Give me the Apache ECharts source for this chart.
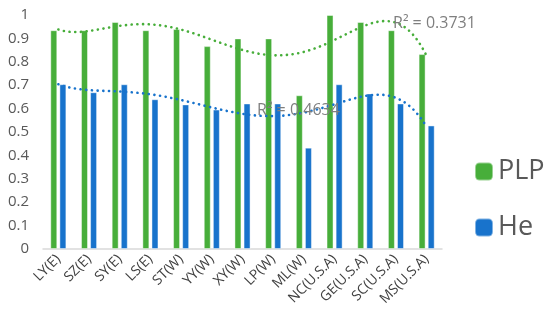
<!DOCTYPE html>
<html><head><meta charset="utf-8">
<script src="https://cdn.jsdelivr.net/npm/echarts@6/dist/echarts.min.js"></script>
<style>html,body{margin:0;padding:0;background:#fff}#c{width:550px;height:329px}</style>
</head><body><div id="c"></div>
<script>
const categories = ['LY(E)','SZ(E)','SY(E)','LS(E)','ST(W)','YY(W)','XY(W)','LP(W)','ML(W)','NC(U.S.A)','GE(U.S.A)','SC(U.S.A)','MS(U.S.A)'];
const plp = [0.935,0.935,0.97,0.935,0.94,0.867,0.90,0.90,0.657,1.0,0.97,0.935,0.833];
const he  = [0.704,0.67,0.704,0.64,0.618,0.596,0.622,0.622,0.433,0.704,0.665,0.622,0.528];
const r2Labels = ['R² = 0.3731','R² = 0.4634'];

// Least-squares polynomial trendline (like Excel's polynomial trendline)
function polyfit(ys, order){
  const n=ys.length, m=order+1;
  const A=[],b=[];
  for(let i=0;i<m;i++){A.push(new Array(m).fill(0));b.push(0);}
  for(let k=0;k<n;k++){
    const t=(k+1-7)/6;
    for(let i=0;i<m;i++){
      b[i]+=ys[k]*Math.pow(t,i);
      for(let j=0;j<m;j++)A[i][j]+=Math.pow(t,i+j);
    }
  }
  for(let i=0;i<m;i++){
    let p=i;for(let r=i+1;r<m;r++)if(Math.abs(A[r][i])>Math.abs(A[p][i]))p=r;
    [A[i],A[p]]=[A[p],A[i]];[b[i],b[p]]=[b[p],b[i]];
    for(let r=i+1;r<m;r++){const f=A[r][i]/A[i][i];for(let c=i;c<m;c++)A[r][c]-=f*A[i][c];b[r]-=f*b[i];}
  }
  const x=new Array(m).fill(0);
  for(let i=m-1;i>=0;i--){let s=b[i];for(let c=i+1;c<m;c++)s-=A[i][c]*x[c];x[i]=s/A[i][i];}
  return (xx)=>{const t=(xx-7)/6;let s=0;for(let i=0;i<m;i++)s+=x[i]*Math.pow(t,i);return s;};
}
const fp=polyfit(plp,5), fh=polyfit(he,5);
const curveP=[],curveH=[];
for(let x=1;x<=13.0001;x+=0.1){curveP.push([x,fp(x)]);curveH.push([x,fh(x)]);}

const chart=echarts.init(document.getElementById('c'));
const green='#47AE3A', blue='#1873CC';
chart.setOption({
  animation:false,
  grid:{left:43,right:108,top:15,bottom:80},
  legend:{orient:'vertical',left:469,top:153,itemWidth:18,itemHeight:18,itemGap:29,
    textStyle:{fontSize:27,lineHeight:26,color:'#595959',fontFamily:'Open Sans'},data:['PLP','He']},
  xAxis:[{type:'category',data:categories,axisTick:{show:false},
    axisLine:{lineStyle:{color:'#d9d9d9',width:1.5}},
    axisLabel:{rotate:45,fontSize:14,color:'#404040',fontFamily:'Open Sans',interval:0,margin:8}},
    {type:'value',min:0.5,max:13.5,show:false}],
  yAxis:[{type:'value',min:0,max:1,interval:0.1,splitLine:{show:false},axisLine:{show:false},axisTick:{show:false},
    axisLabel:{fontSize:15,color:'#595959',fontFamily:'Open Sans',margin:14,formatter:v=>String(+v.toFixed(1))}}],
  series:[
    {name:'PLP',type:'bar',data:plp,barWidth:7,barGap:'30%',itemStyle:{color:green,borderColor:'rgba(255,255,255,0.45)',borderWidth:1}},
    {name:'He',type:'bar',data:he,barWidth:7,itemStyle:{color:blue,borderColor:'rgba(255,255,255,0.45)',borderWidth:1}},
    {type:'line',xAxisIndex:1,data:curveP,showSymbol:false,lineStyle:{color:green,width:2.6,type:[0.1,5.6],cap:'round'},z:5,silent:true},
    {type:'line',xAxisIndex:1,data:curveH,showSymbol:false,lineStyle:{color:blue,width:2.6,type:[0.1,5.6],cap:'round'},z:5,silent:true}
  ],
  graphic:[
    {type:'text',left:393,top:15,z:10,style:{text:r2Labels[0],fontSize:16,fill:'#7f7f7f',fontFamily:'Open Sans'}},
    {type:'text',left:257,top:102,z:10,style:{text:r2Labels[1],fontSize:16,fill:'#7f7f7f',fontFamily:'Open Sans'}}
  ]
});
</script></body></html>
